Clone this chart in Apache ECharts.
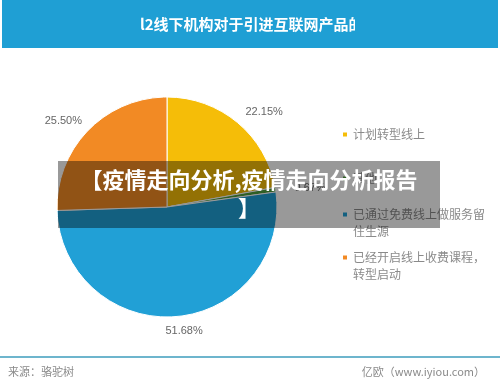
<!DOCTYPE html>
<html>
<head>
<meta charset="utf-8">
<script src="https://cdn.jsdelivr.net/npm/echarts@6/dist/echarts.min.js"></script>
<style>
  html, body { margin: 0; padding: 0; background: #fff; }
  #main { width: 500px; height: 389px; }
</style>
</head>
<body>
<div id="main"></div>
<script>
// 数据
const categories = ['计划转型线上', '其他', '已通过免费线上做服务留\n住生源', '已经开启线上收费课程，\n转型启动'];
const values = [22.15, 0.67, 51.68, 25.50];
const colors = ['#f5bd08', '#4f9e3c', '#21a0d6', '#f28a24'];
const legendTops = [121, 165, 201, 244];
// 百分比标签的水平微调
const labelDx = [-6, 0, -17, 9];

const headerTitle = 'l2线下机构对于引进互联网产品的';
const overlayText = '【疫情走向分析,疫情走向分析报告\n】';

const chart = echarts.init(document.getElementById('main'));

// 两行的图例：方块放在第一行旁边
const legends = categories.map((name, i) => {
    const twoLines = name.indexOf('\n') >= 0;
    return {
        data: [name],
        left: 336,
        top: legendTops[i],
        orient: 'vertical',
        icon: twoLines ? 'path://M0,0h6v6h-6zM0,23' : 'rect',
        itemWidth: 6,
        itemHeight: twoLines ? 23 : 6,
        itemGap: 0,
        selectedMode: false,
        textStyle: {
            color: '#8a8a8a',
            fontSize: 12,
            lineHeight: 17,
            fontFamily: 'Noto Sans CJK SC'
        }
    };
});

const option = {
    animation: false,
    color: colors,
    legend: legends,
    graphic: [
        // 顶部蓝色标题栏
        { type: 'rect', left: 2, top: 0, shape: { width: 496, height: 48 }, style: { fill: '#1f9fd4' }, z: 1 },
        {
            type: 'text', left: 140, top: 17, z: 2,
            style: { text: headerTitle, fill: '#fff', font: 'bold 15px "Noto Sans CJK SC"' },
            clipPath: { type: 'rect', shape: { x: 0, y: -5, width: 215, height: 30 } }
        },
        // 底部分隔线
        { type: 'rect', left: 0, top: 356, shape: { width: 500, height: 2 }, style: { fill: '#6db5cd' } },
        { type: 'text', left: 8, top: 366, style: { text: '来源：骆驼树', fill: '#8a8a8a', font: '11px "Noto Sans CJK SC"' } },
        { type: 'text', right: 15, top: 366, style: { text: '亿欧（www.iyiou.com）', fill: '#8a8a8a', font: '11px "Noto Sans CJK SC"' } },
        // 半透明遮罩文字
        {
            type: 'group', left: 58, top: 161, z: 100,
            children: [
                { type: 'rect', shape: { width: 382, height: 67 }, style: { fill: 'rgba(0,0,0,0.4)' }, z: 100 },
                {
                    type: 'text', x: 191, y: 5, z: 101,
                    style: {
                        text: overlayText, fill: '#fff', align: 'center',
                        font: 'bold 22px "Noto Sans CJK SC"', lineHeight: 28
                    }
                }
            ]
        }
    ],
    series: [
        {
            type: 'pie',
            center: [167, 207],
            radius: 110,
            startAngle: 90,
            clockwise: true,
            avoidLabelOverlap: false,
            itemStyle: { borderColor: '#fff', borderWidth: 1 },
            label: {
                show: true,
                position: 'outside',
                formatter: p => p.value.toFixed(2) + '%',
                color: '#666',
                fontSize: 11,
                fontFamily: 'Liberation Sans'
            },
            labelLine: { show: false, length: 14, length2: 0 },
            labelLayout: p => ({ dx: labelDx[p.dataIndex] }),
            emphasis: { disabled: true },
            data: categories.map((name, i) => ({ name: name, value: values[i] }))
        }
    ]
};

chart.setOption(option);
</script>
</body>
</html>
